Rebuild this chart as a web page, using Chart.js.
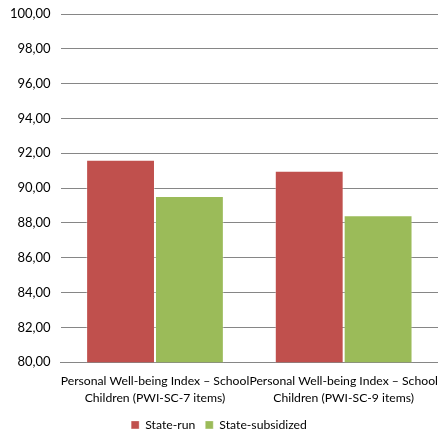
<!DOCTYPE html>
<html>
<head>
<meta charset="utf-8">
<script src="https://cdn.jsdelivr.net/npm/chart.js@4"></script>
<style>
  html, body { margin: 0; padding: 0; background: #fff; }
  #wrap { width: 438px; height: 433px; position: relative; }
</style>
</head>
<body>
<div id="wrap"><canvas id="chart"></canvas></div>
<script>
// data
const categories = [
  ["Personal Well-being Index – School", "Children (PWI-SC-7 items)"],
  ["Personal Well-being Index – School", "Children (PWI-SC-9 items)"],
];
const stateRun = [91.63, 91.0];
const stateSubsidized = [89.55, 88.44];
const yTicks = [80, 82, 84, 86, 88, 90, 92, 94, 96, 98, 100];

const ctx = document.querySelector("#chart").getContext("2d");

new Chart(ctx, {
  type: "bar",
  data: {
    labels: categories,
    datasets: [
      {
        label: "State-run",
        data: stateRun,
        backgroundColor: "#C0504D",
        borderColor: "rgba(255,255,255,0.35)",
        borderWidth: 1,
      },
      {
        label: "State-subsidized",
        data: stateSubsidized,
        backgroundColor: "#9BBB59",
        borderColor: "rgba(255,255,255,0.35)",
        borderWidth: 1,
      },
    ],
  },
  options: {
    responsive: true,
    maintainAspectRatio: false,
    animation: false,
    layout: { padding: { top: 14, right: 0, left: 0, bottom: -8 } },
    datasets: {
      bar: { barPercentage: 1, categoryPercentage: 0.73 },
    },
    plugins: {
      legend: {
        position: "bottom",
        labels: {
          color: "#000",
          font: { family: "Lato", size: 12.2 },
          boxWidth: 8,
          boxHeight: 8,
          padding: 10,
        },
      },
      tooltip: { enabled: false },
    },
    scales: {
      x: {
        grid: { display: false },
        border: { color: "#868686" },
        // let the long labels spill over instead of shrinking the plot
        afterFit: (axis) => {
          axis.paddingLeft = 0;
          axis.paddingRight = 0;
          axis.height -= 1;
        },
        ticks: {
          color: "#000",
          padding: 3,
          font: { family: "Lato", size: 12.2, lineHeight: 1.38 },
          autoSkip: false,
          maxRotation: 0,
          minRotation: 0,
        },
      },
      y: {
        min: 80,
        max: 100,
        afterBuildTicks: (axis) => {
          axis.ticks = yTicks.map((v) => ({ value: v }));
        },
        // top label may poke above the plot, like the original
        afterFit: (axis) => {
          axis.paddingTop = 0;
          axis.paddingBottom = 0;
        },
        grid: { color: "#868686", drawTicks: false },
        border: { display: false },
        ticks: {
          color: "#000",
          padding: 10,
          font: { family: "Lato", size: 13 },
          callback: (v) => v.toFixed(2).replace(".", ","),
        },
      },
    },
  },
});
</script>
</body>
</html>
